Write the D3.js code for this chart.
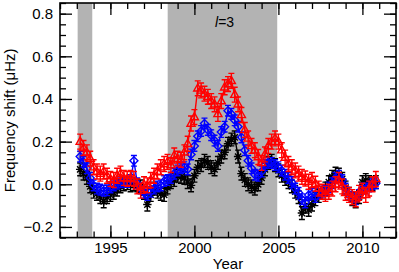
<!DOCTYPE html>
<html>
<head>
<meta charset="utf-8">
<script src="https://cdn.jsdelivr.net/npm/d3@7"></script>
<style>
body { margin: 0; background: #fff; }
svg { display: block; }
text { font-family: "Liberation Sans", Arial, sans-serif; }
</style>
</head>
<body>
<div id="chart"></div>
<script>
// observation epochs (yr)
const years = [
  1993.2, 1993.4, 1993.6, 1993.8, 1994.0, 1994.2, 1994.4, 1994.6, 1994.8,
  1995.0, 1995.2, 1995.4, 1995.6, 1995.8, 1996.0, 1996.2, 1996.4, 1996.6, 1996.8,
  1997.0, 1997.2, 1997.4, 1997.6, 1997.8, 1998.0, 1998.2, 1998.4, 1998.6, 1998.8,
  1999.0, 1999.2, 1999.4, 1999.6, 1999.8, 2000.0, 2000.2, 2000.4, 2000.6, 2000.8,
  2001.0, 2001.2, 2001.4, 2001.6, 2001.8, 2002.0, 2002.2, 2002.4, 2002.6, 2002.8,
  2003.0, 2003.2, 2003.4, 2003.6, 2003.8, 2004.0, 2004.2, 2004.4, 2004.6, 2004.8,
  2005.0, 2005.2, 2005.4, 2005.6, 2005.8, 2006.0, 2006.2, 2006.4, 2006.6, 2006.8,
  2007.0, 2007.2, 2007.4, 2007.6, 2007.8, 2008.0, 2008.2, 2008.4, 2008.6, 2008.8,
  2009.0, 2009.2, 2009.4, 2009.6, 2009.8, 2010.0, 2010.2, 2010.4, 2010.6, 2010.8
];

// black series
const shiftBlack = [
  0.07, 0.05, 0.03, -0.01, -0.035, -0.045, -0.06, -0.08, -0.06,
  -0.05, -0.04, -0.025, -0.01, 0.0, 0.005, -0.005, 0.0, -0.005, -0.01,
  -0.04, -0.095, -0.05, -0.02, -0.035, -0.045, -0.05, -0.015, 0.01, 0.02,
  0.04, 0.035, 0.03, 0.01, -0.005, 0.04, 0.08, 0.09, 0.11, 0.1,
  0.08, 0.07, 0.1, 0.13, 0.15, 0.19, 0.21, 0.22, 0.13, 0.05,
  0.02, 0.0, -0.01, -0.02, 0.0, 0.03, 0.07, 0.1, 0.11, 0.09,
  0.065, 0.04, 0.025, 0.01, -0.01, -0.035, -0.06, -0.135, -0.105, -0.12,
  -0.095, -0.07, -0.055, -0.04, -0.02, 0.01, 0.035, 0.05, 0.045, 0.025,
  -0.015, -0.045, -0.07, -0.08, -0.06, 0.01, 0.02, 0.01, 0.0, 0.01
];

// blue series
const shiftBlue = [
  0.13, 0.105, 0.075, 0.03, -0.005, -0.02, -0.025, -0.03, -0.028,
  -0.015, -0.005, 0.003, 0.01, 0.012, 0.011, 0.02, 0.11, 0.005, -0.02,
  -0.04, -0.05, -0.035, -0.02, -0.01, -0.005, 0.015, 0.02, 0.03, 0.05,
  0.065, 0.075, 0.08, 0.07, 0.14, 0.18, 0.225, 0.25, 0.285, 0.255,
  0.23, 0.205, 0.18, 0.245, 0.27, 0.345, 0.33, 0.3, 0.27, 0.22,
  0.16, 0.11, 0.075, 0.045, 0.04, 0.06, 0.09, 0.1, 0.1, 0.09,
  0.08, 0.065, 0.045, 0.03, 0.01, -0.02, -0.04, -0.07, -0.085, -0.05,
  -0.045, -0.06, -0.045, -0.035, -0.03, -0.015, 0.005, 0.03, 0.04, 0.02,
  -0.02, -0.05, -0.06, -0.07, -0.05, -0.02, -0.02, -0.01, 0.0, 0.005
];

// red series
const shiftRed = [
  0.2, 0.17, 0.15, 0.12, 0.08, 0.06, 0.05, 0.06, 0.04,
  0.025, 0.02, 0.04, 0.05, 0.03, 0.025, 0.03, 0.025, -0.01, -0.03,
  0.0, -0.005, 0.02, 0.04, 0.06, 0.08, 0.095, 0.105, 0.09, 0.135,
  0.12, 0.115, 0.15, 0.19, 0.285, 0.315, 0.45, 0.44, 0.425, 0.41,
  0.39, 0.375, 0.33, 0.39, 0.455, 0.47, 0.485, 0.42, 0.375, 0.325,
  0.255, 0.215, 0.18, 0.16, 0.128, 0.1, 0.14, 0.18, 0.2, 0.215,
  0.2, 0.16, 0.125, 0.095, 0.08, 0.065, 0.05, 0.035, 0.027, 0.012,
  0.02, 0.003, -0.02, -0.035, -0.045, -0.035, -0.02, 0.0, 0.02, -0.01,
  -0.04, -0.05, -0.06, -0.07, -0.04, -0.03, -0.05, -0.02, 0.0, 0.025
];

const seriesErr = [0.03, 0.025, 0.035];   // black, blue, red
const bandStart = [1993.05, 1998.41];
const bandEnd = [1993.92, 2004.93];
const xMajor = [1995, 2000, 2005, 2010];
const xMinor = d3.range(1992, 2012.5, 1);
const yMajor = [-0.2, 0.0, 0.2, 0.4, 0.6, 0.8];
const yMinor = d3.range(-0.25, 0.851, 0.05);

const W = 399, H = 272;
const x = d3.scaleLinear().domain([1992, 2012]).range([60, 396]);
const y = d3.scaleLinear().domain([-0.25, 0.85]).range([237.6, 3]);

const svg = d3.select("#chart").append("svg").attr("width", W).attr("height", H);

// grey bands
svg.append("g").selectAll("rect")
  .data(bandStart)
  .enter().append("rect")
  .attr("x", (d, i) => x(d))
  .attr("width", (d, i) => x(bandEnd[i]) - x(d))
  .attr("y", y(0.85))
  .attr("height", y(-0.25) - y(0.85))
  .attr("fill", "#b3b3b3");

// series
const series = [
  { vals: shiftBlack, color: "#000000", mark: "star" },
  { vals: shiftBlue, color: "#0000ff", mark: "diamond" },
  { vals: shiftRed, color: "#ff0000", mark: "triangle" }
];

const line = d3.line().x(d => x(d[0])).y(d => y(d[1]));

series.forEach((s, si) => {
  const pts = years.map((t, i) => [t, s.vals[i]]);
  const g = svg.append("g")
    .attr("stroke", s.color).attr("fill", "none").attr("stroke-width", 1.4);
  g.append("path").attr("d", line(pts));
  // error bars
  const e = seriesErr[si];
  g.selectAll(".eb").data(pts).enter().append("path")
    .attr("d", d => {
      const cx = x(d[0]), y0 = y(d[1] - e), y1 = y(d[1] + e);
      return `M${cx},${y0}V${y1}M${cx - 3},${y0}H${cx + 3}M${cx - 3},${y1}H${cx + 3}`;
    });
  // markers
  g.selectAll(".mk").data(pts).enter().append("path")
    .attr("d", d => {
      const cx = x(d[0]), cy = y(d[1]);
      if (s.mark === "star") {
        const r = 4.2, q = 3.1;
        return `M${cx},${cy - r}V${cy + r}M${cx - q},${cy - q}L${cx + q},${cy + q}M${cx - q},${cy + q}L${cx + q},${cy - q}M${cx - r},${cy}H${cx + r}`;
      } else if (s.mark === "diamond") {
        const r = 4;
        return `M${cx},${cy - r}L${cx + r},${cy}L${cx},${cy + r}L${cx - r},${cy}Z`;
      } else {
        const r = 4.5;
        return `M${cx},${cy - r}L${cx + r * 0.9},${cy + r * 0.6}L${cx - r * 0.9},${cy + r * 0.6}Z`;
      }
    });
});

// axes (ticks inside, mirrored)
const fmtY = d3.format(".1f");
function styleAxis(g) {
  g.select(".domain").remove();
  g.selectAll("line").attr("stroke", "#000").attr("stroke-width", 1.3);
  g.selectAll("text").attr("fill", "#000").style("font-size", "15px");
}

svg.append("g").attr("transform", `translate(0,${y(-0.25)})`)
  .call(d3.axisBottom(x).tickValues(xMinor).tickSize(-6).tickFormat(""))
  .call(styleAxis);
svg.append("g").attr("transform", `translate(0,${y(-0.25)})`)
  .call(d3.axisBottom(x).tickValues(xMajor).tickSize(-12).tickPadding(5).tickFormat(d3.format("d")))
  .call(styleAxis);
svg.append("g").attr("transform", `translate(0,${y(0.85)})`)
  .call(d3.axisTop(x).tickValues(xMinor).tickSize(-6).tickFormat(""))
  .call(styleAxis);
svg.append("g").attr("transform", `translate(0,${y(0.85)})`)
  .call(d3.axisTop(x).tickValues(xMajor).tickSize(-12).tickFormat(""))
  .call(styleAxis);

svg.append("g").attr("transform", `translate(${x(1992)},0)`)
  .call(d3.axisLeft(y).tickValues(yMinor).tickSize(-6).tickFormat(""))
  .call(styleAxis);
svg.append("g").attr("transform", `translate(${x(1992)},0)`)
  .call(d3.axisLeft(y).tickValues(yMajor).tickSize(-12).tickPadding(7).tickFormat(fmtY))
  .call(styleAxis);
svg.append("g").attr("transform", `translate(${x(2012)},0)`)
  .call(d3.axisRight(y).tickValues(yMinor).tickSize(-6).tickFormat(""))
  .call(styleAxis);
svg.append("g").attr("transform", `translate(${x(2012)},0)`)
  .call(d3.axisRight(y).tickValues(yMajor).tickSize(-12).tickFormat(""))
  .call(styleAxis);

// frame
svg.append("rect")
  .attr("x", x(1992)).attr("y", y(0.85))
  .attr("width", x(2012) - x(1992)).attr("height", y(-0.25) - y(0.85))
  .attr("fill", "none").attr("stroke", "#000").attr("stroke-width", 1.6);

// labels
svg.append("text")
  .attr("x", (x(1992) + x(2012)) / 2).attr("y", 269)
  .attr("text-anchor", "middle").style("font-size", "15px")
  .text("Year");

svg.append("text")
  .attr("transform", `translate(15,${(y(-0.25) + y(0.85)) / 2}) rotate(-90)`)
  .attr("text-anchor", "middle").style("font-size", "15px")
  .text("Frequency shift (\u03bcHz)");

const lab = svg.append("text")
  .attr("x", 215).attr("y", 27).style("font-size", "14px");
lab.append("tspan").style("font-style", "italic").text("l");
lab.append("tspan").text("=3");
</script>
</body>
</html>
